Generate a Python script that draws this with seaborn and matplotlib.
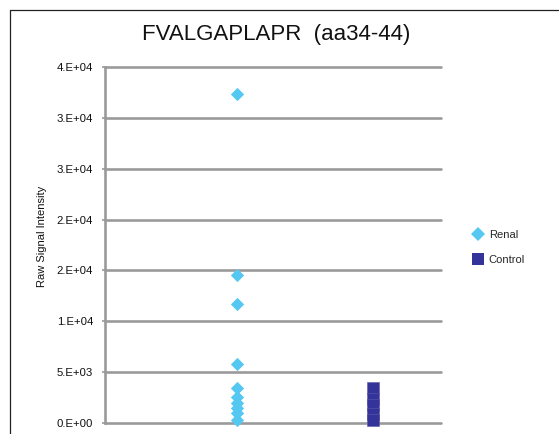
import matplotlib
matplotlib.use("Agg")
import matplotlib.pyplot as plt
import seaborn as sns
import pandas as pd
from matplotlib.lines import Line2D

categories = ["Renal", "Control"]
renal_values = [32300, 14550, 11700, 5800, 3450, 2600, 2000, 1500, 950, 300]
control_values = [3450, 2400, 1800, 900, 300]
y_ticks = [0, 5000, 10000, 15000, 20000, 25000, 30000, 35000]
y_tick_labels = ["0.E+00", "5.E+03", "1.E+04", "2.E+04", "2.E+04", "3.E+04", "3.E+04", "4.E+04"]
title = "FVALGAPLAPR  (aa34-44)"
y_label = "Raw Signal Intensity"

renal_color = "#55C8F2"
control_color = "#333399"
grid_color = "#9A9A9A"

sns.set_theme(style="white")
plt.rcParams["font.family"] = ["Liberation Sans", "DejaVu Sans"]

df = pd.DataFrame({
    "group": ["Renal"] * len(renal_values) + ["Control"] * len(control_values),
    "value": renal_values + control_values,
})
df["pos"] = df["group"].map({c: i for i, c in enumerate(categories)})

W, H = 559, 434
fig = plt.figure(figsize=(W / 100, H / 100), dpi=100)
ax = fig.add_axes([105 / W, 1 - 423 / H, (441 - 105) / W, (423 - 67) / H])

sns.scatterplot(data=df[df.group == "Renal"], x="pos", y="value", marker="D",
                s=46, color=renal_color, linewidth=0, ax=ax, clip_on=False,
                legend=False, zorder=3)
sns.scatterplot(data=df[df.group == "Control"], x="pos", y="value", marker="s",
                s=72, color=control_color, edgecolor="#5a5aa8", linewidth=0.4,
                ax=ax, clip_on=False, legend=False, zorder=3)

ax.set_xlim(-0.968, 1.502)
ax.set_ylim(0, 35000)
ax.set_yticks(y_ticks)
ax.set_yticklabels(y_tick_labels, fontsize=8.2, color="#111111")
ax.set_xticks([])
ax.set_xlabel("")
ax.set_ylabel(y_label, fontsize=8, color="#111111")
ax.yaxis.set_label_coords(-58 / 336, 0.525)
for yv in y_ticks:
    ax.axhline(yv, color=grid_color, lw=1.9, zorder=1, clip_on=False)
for side in ["top", "right", "bottom"]:
    ax.spines[side].set_visible(False)
ax.spines["left"].set_color(grid_color)
ax.spines["left"].set_linewidth(1.9)
ax.tick_params(axis="y", which="major", left=True, length=2.5, width=1.2,
               color=grid_color, pad=6)

fig.text(276 / W, 1 - 40 / H, title, ha="center", va="baseline", fontsize=16,
         color="#111111")

handles = [
    Line2D([], [], marker="D", linestyle="", color=renal_color, markersize=6.8,
           markeredgewidth=0),
    Line2D([], [], marker="s", linestyle="", color=control_color, markersize=8.6,
           markeredgewidth=0),
]
fig.legend(handles, categories, loc="upper left",
           bbox_to_anchor=(472 / W, 1 - 230 / H), frameon=False, fontsize=8,
           handlelength=1.0, handletextpad=0.5, labelspacing=1.35,
           borderaxespad=0, borderpad=0)

# outer chart frame
fig.add_artist(Line2D([10 / W, 10 / W], [0, 1 - 10 / H], transform=fig.transFigure,
                      color="#222222", lw=0.9))
fig.add_artist(Line2D([10 / W, 1], [1 - 10 / H, 1 - 10 / H], transform=fig.transFigure,
                      color="#222222", lw=0.9))

fig.savefig("out.png", dpi=100, facecolor="white")
